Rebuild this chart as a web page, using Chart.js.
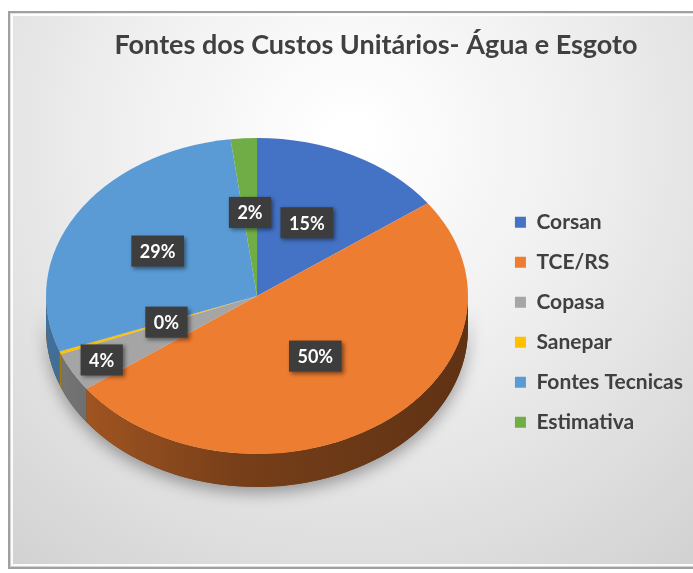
<!DOCTYPE html>
<html lang="pt">
<head>
<meta charset="utf-8">
<title>Fontes dos Custos Unitários- Água e Esgoto</title>
<script src="https://cdn.jsdelivr.net/npm/chart.js@4.4.1/dist/chart.umd.min.js"></script>
<style>
    html, body { margin: 0; padding: 0; background: #ffffff; overflow: hidden; }
    canvas { display: block; }
</style>
</head>
<body>
<canvas id="pieChart" width="693" height="573"></canvas>
<script>
// ============================================
// Fontes dos Custos Unitários - 3D pie
// ============================================

// Data
const categories = ['Corsan', 'TCE/RS', 'Copasa', 'Sanepar', 'Fontes Tecnicas', 'Estimativa'];
const shares = [15, 50, 4, 0.3, 28.7, 2];
const sliceColors = ['#4472C4', '#ED7D31', '#A5A5A5', '#FFC000', '#5B9BD5', '#70AD47'];

// Tilt of the pie (screen centre, vertical squash, wall height)
const tilt = { cx: 257, cy: 296, squash: 158 / 211, depth: 33 };
// How far out each data label sits, as a share of the radius
const labelRadius = [0.52, 0.47, 0.84, 0.46, 0.55, 0.53];

// darken a hex colour by a factor
function shade(hex, f) {
    const n = parseInt(hex.slice(1), 16);
    const r = Math.round(((n >> 16) & 255) * f);
    const g = Math.round(((n >> 8) & 255) * f);
    const b = Math.round((n & 255) * f);
    return `rgb(${r},${g},${b})`;
}

document.addEventListener('DOMContentLoaded', () => {
    const ctx = document.getElementById('pieChart').getContext('2d');

    // Frame + soft grey background, like the Excel chart area
    const framePlugin = {
        id: 'frame',
        beforeDraw(chart) {
            const { ctx, width, height } = chart;
            ctx.save();
            ctx.fillStyle = '#ffffff';
            ctx.fillRect(0, 0, width, height);
            const g = ctx.createRadialGradient(350, 140, 20, 350, 140, 560);
            g.addColorStop(0, '#ffffff');
            g.addColorStop(0.4, '#efefef');
            g.addColorStop(1, '#d0d0d0');
            ctx.fillStyle = g;
            ctx.fillRect(8, 11, width, 558);
            ctx.strokeStyle = '#a0a0a0';
            ctx.lineWidth = 2;
            ctx.strokeRect(9, 12, width, 556);
            ctx.strokeStyle = 'rgba(255,255,255,0.9)';
            ctx.lineWidth = 2;
            ctx.strokeRect(12, 15, width, 550);
            ctx.restore();
        }
    };

    // Squash the library's pie into an ellipse and give it a wall
    const tiltPlugin = {
        id: 'tilt',
        beforeDatasetsDraw(chart) {
            const { ctx, chartArea } = chart;
            const meta = chart.getDatasetMeta(0);
            const ox = (chartArea.left + chartArea.right) / 2;
            const oy = (chartArea.top + chartArea.bottom) / 2;
            const drop = tilt.depth / tilt.squash;

            ctx.save();
            ctx.translate(tilt.cx, tilt.cy);
            ctx.scale(1, tilt.squash);
            ctx.translate(-ox, -oy);

            // shadow under the whole wall
            const first = meta.data[0];
            ctx.save();
            ctx.shadowColor = 'rgba(0,0,0,0.35)';
            ctx.shadowBlur = 16;
            ctx.shadowOffsetY = 6;
            ctx.fillStyle = '#6a3714';
            ctx.beginPath();
            ctx.arc(first.x, first.y, first.outerRadius, 0, Math.PI);
            ctx.arc(first.x, first.y + drop, first.outerRadius, Math.PI, 0, true);
            ctx.closePath();
            ctx.fill();
            ctx.restore();

            // wall of each slice (only the front half shows)
            meta.data.forEach((arc, i) => {
                const { x, y, startAngle, endAngle, outerRadius } = arc;
                const a0 = Math.max(startAngle, 0);
                const a1 = Math.min(endAngle, Math.PI);
                if (a1 <= a0) return;
                const g = ctx.createLinearGradient(x - outerRadius, 0, x + outerRadius, 0);
                g.addColorStop(0, shade(sliceColors[i], 0.72));
                g.addColorStop(0.45, shade(sliceColors[i], 0.5));
                g.addColorStop(1, shade(sliceColors[i], 0.4));
                ctx.fillStyle = g;
                ctx.beginPath();
                ctx.arc(x, y, outerRadius, a0, a1);
                ctx.arc(x, y + drop, outerRadius, a1, a0, true);
                ctx.closePath();
                ctx.fill();
            });
        },
        afterDatasetsDraw(chart) {
            const { ctx, chartArea } = chart;
            ctx.restore();

            const meta = chart.getDatasetMeta(0);
            const ox = (chartArea.left + chartArea.right) / 2;
            const oy = (chartArea.top + chartArea.bottom) / 2;
            const total = shares.reduce((a, b) => a + b, 0);

            ctx.save();
            ctx.font = "bold 18px 'Lato', sans-serif";
            ctx.textAlign = 'center';
            ctx.textBaseline = 'middle';
            meta.data.forEach((arc, i) => {
                const { x, y, startAngle, endAngle, outerRadius } = arc;
                const mid = (startAngle + endAngle) / 2;
                const rr = outerRadius * labelRadius[i];
                const lx = tilt.cx + (x - ox) + Math.cos(mid) * rr;
                const ly = tilt.cy + (y - oy) * tilt.squash + Math.sin(mid) * rr * tilt.squash;
                const text = Math.round(shares[i] / total * 100) + '%';
                const w = ctx.measureText(text).width + 17;
                const h = 31;

                ctx.shadowColor = 'rgba(0,0,0,0.45)';
                ctx.shadowBlur = 4;
                ctx.shadowOffsetX = 2;
                ctx.shadowOffsetY = 2;
                ctx.fillStyle = '#3d3d3d';
                ctx.fillRect(lx - w / 2, ly - h / 2, w, h);

                ctx.shadowColor = 'transparent';
                ctx.fillStyle = '#ffffff';
                ctx.fillText(text, lx, ly + 1);
            });
            ctx.restore();
        }
    };

    new Chart(ctx, {
        type: 'pie',
        data: {
            labels: categories,
            datasets: [{
                data: shares,
                backgroundColor: sliceColors,
                borderWidth: 0,
                radius: 211
            }]
        },
        options: {
            responsive: false,
            animation: false,
            layout: {
                padding: { top: 12, left: 59, right: 0, bottom: 40 }
            },
            plugins: {
                title: {
                    display: true,
                    text: 'Fontes dos Custos Unitários- Água e Esgoto',
                    color: '#404040',
                    font: { family: "'Lato', sans-serif", size: 27, weight: 'bold' },
                    padding: { top: 17, bottom: 50 }
                },
                legend: {
                    position: 'right',
                    fullSize: false,
                    maxWidth: 200,
                    labels: {
                        boxWidth: 11,
                        boxHeight: 11,
                        padding: 19,
                        color: '#404040',
                        font: { family: "'Lato', sans-serif", size: 21, weight: 'bold' }
                    }
                },
                tooltip: { enabled: false }
            }
        },
        plugins: [framePlugin, tiltPlugin]
    });
});
</script>
</body>
</html>
